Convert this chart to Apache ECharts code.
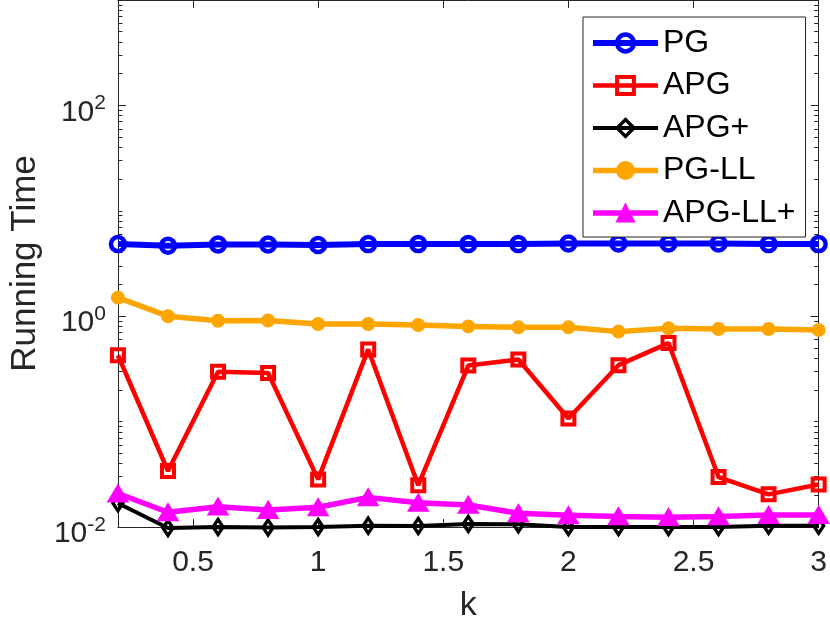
<!DOCTYPE html>
<html>
<head>
<meta charset="utf-8">
<title>Running Time vs k</title>
<script src="https://cdn.jsdelivr.net/npm/echarts@6/dist/echarts.min.js"></script>
<style>
    html, body { margin: 0; padding: 0; background: #fff; }
    #main { width: 830px; height: 628px; }
</style>
</head>
<body>
<div id="main"></div>
<script>
    // data
    var kValues = [0.2, 0.4, 0.6, 0.8, 1.0, 1.2, 1.4, 1.6, 1.8, 2.0, 2.2, 2.4, 2.6, 2.8, 3.0];
    var pgTime = [4.83, 4.66, 4.79, 4.79, 4.73, 4.83, 4.83, 4.83, 4.83, 4.90, 4.90, 4.90, 4.90, 4.83, 4.83];
    var apgTime = [0.426, 0.034, 0.297, 0.289, 0.0283, 0.484, 0.0249, 0.340, 0.388, 0.107, 0.343, 0.556, 0.0298, 0.0204, 0.0253];
    var apgPlusTime = [0.0168, 0.0098, 0.0100, 0.0099, 0.0100, 0.0103, 0.0102, 0.0107, 0.0106, 0.0100, 0.0100, 0.0100, 0.0100, 0.0103, 0.0103];
    var pgLLTime = [1.50, 1.00, 0.905, 0.91, 0.843, 0.843, 0.825, 0.80, 0.784, 0.784, 0.714, 0.767, 0.757, 0.757, 0.741];
    var apgLLPlusTime = [0.0208, 0.0138, 0.0156, 0.0145, 0.0154, 0.0191, 0.0170, 0.0162, 0.0135, 0.0129, 0.0126, 0.0124, 0.0126, 0.0130, 0.0130];

    var xTicks = [0.5, 1, 1.5, 2, 2.5, 3];
    var yTicks = [0.01, 1, 100];
    var yDecades = [0.01, 0.1, 1, 10, 100];

    // minor log ticks 2..9 in every decade, plus the unlabeled decades
    var yMinorTicks = [0.1, 10, 1000];
    yDecades.forEach(function (d) {
        for (var m = 2; m <= 9; m++) yMinorTicks.push(+(d * m).toPrecision(3));
    });

    function pairs(ys) {
        return kValues.map(function (k, i) { return [k, ys[i]]; });
    }

    var axisColor = '#262626';
    var font = 'Liberation Sans, Arial, Helvetica, sans-serif';
    var clear = 'rgba(255,255,255,0)';

    function yAxisDef(pos, major, showLabel) {
        return {
            type: 'log', logBase: 10, min: 0.01, max: 1000, position: pos,
            axisLine: { show: major, lineStyle: { color: axisColor, width: 1 } },
            axisTick: {
                show: true, inside: true, length: major ? 8 : 4.5,
                customValues: major ? yTicks : yMinorTicks,
                lineStyle: { color: axisColor, width: 1 }
            },
            axisLabel: {
                show: showLabel, customValues: yTicks, margin: 12,
                color: axisColor, fontFamily: font, padding: [5.5, 0, 0, 0],
                formatter: function (v) {
                    var e = Math.round(Math.log(v) / Math.LN10);
                    return '{b|10}{s|' + e + '}';
                },
                rich: {
                    b: { fontSize: 30, lineHeight: 30, fontFamily: font, color: axisColor, padding: [8.5, 0, 0, 0] },
                    s: { fontSize: 21, lineHeight: 21, fontFamily: font, color: axisColor, verticalAlign: 'top' }
                }
            },
            splitLine: { show: false },
            name: showLabel ? 'Running Time' : '',
            nameLocation: 'middle', nameGap: 74,
            nameTextStyle: { fontSize: 35, fontFamily: font, color: axisColor }
        };
    }

    function xAxisDef(pos, showLabel) {
        return {
            type: 'value', min: 0.2, max: 3, position: pos,
            axisLine: { show: true, onZero: false, lineStyle: { color: axisColor, width: 1 } },
            axisTick: { show: true, inside: true, length: 8, customValues: xTicks,
                lineStyle: { color: axisColor, width: 1 } },
            axisLabel: { show: showLabel, customValues: xTicks, margin: 21,
                fontSize: 30, fontFamily: font, color: axisColor },
            splitLine: { show: false },
            name: showLabel ? 'k' : '',
            nameLocation: 'middle', nameGap: 62,
            nameTextStyle: { fontSize: 34, fontFamily: font, color: axisColor }
        };
    }

    // one plotted series with MATLAB-like markers
    var styles = [
        { name: 'PG', ys: pgTime, color: '#0000ff', width: 6, symbol: 'circle', size: 14, hollow: true, border: 4.5 },
        { name: 'APG', ys: apgTime, color: '#ff0000', width: 4.5, symbol: 'rect', size: 12, hollow: true, border: 4 },
        { name: 'APG+', ys: apgPlusTime, color: '#000000', width: 4, symbol: 'diamond', size: [10, 15], hollow: true, border: 3.5 },
        { name: 'PG-LL', ys: pgLLTime, color: '#ffa500', width: 5.5, symbol: 'circle', size: 12, hollow: false, border: 2 },
        { name: 'APG-LL+', ys: apgLLPlusTime, color: '#ff00ff', width: 5.5, symbol: 'triangle', size: [19, 16], hollow: false, border: 2 }
    ];

    function itemStyleOf(s) {
        return s.hollow
            ? { color: clear, borderColor: s.color, borderWidth: s.border }
            : { color: s.color, borderColor: s.color, borderWidth: s.border };
    }

    var series = styles.map(function (s) {
        return {
            name: s.name, type: 'line', data: pairs(s.ys), clip: false,
            symbol: s.symbol, symbolSize: s.size, showSymbol: true,
            lineStyle: { color: s.color, width: s.width },
            itemStyle: itemStyleOf(s),
            emphasis: { disabled: true },
            animation: false
        };
    });

    var legendData = styles.map(function (s) {
        return {
            name: s.name,
            lineStyle: { color: s.color, width: s.width },
            itemStyle: itemStyleOf(s)
        };
    });

    var chart = echarts.init(document.getElementById('main'));
    var option = {
        backgroundColor: '#fff',
        animation: false,
        grid: { left: 113, right: 10, top: 0, bottom: 94 },
        xAxis: [xAxisDef('bottom', true), xAxisDef('top', false)],
        yAxis: [
            yAxisDef('left', true, true),
            yAxisDef('left', false, false),
            yAxisDef('right', true, false),
            yAxisDef('right', false, false)
        ],
        legend: {
            orient: 'vertical', align: 'left',
            left: 583, top: 17,
            padding: [10, 10, 8, 7],
            itemWidth: 65, itemHeight: 21, itemGap: 10.5,
            backgroundColor: '#fff',
            borderColor: axisColor, borderWidth: 1,
            textStyle: { fontSize: 32, lineHeight: 32, fontFamily: font, color: '#000' },
            data: legendData
        },
        series: series
    };
    chart.setOption(option);
</script>
</body>
</html>
